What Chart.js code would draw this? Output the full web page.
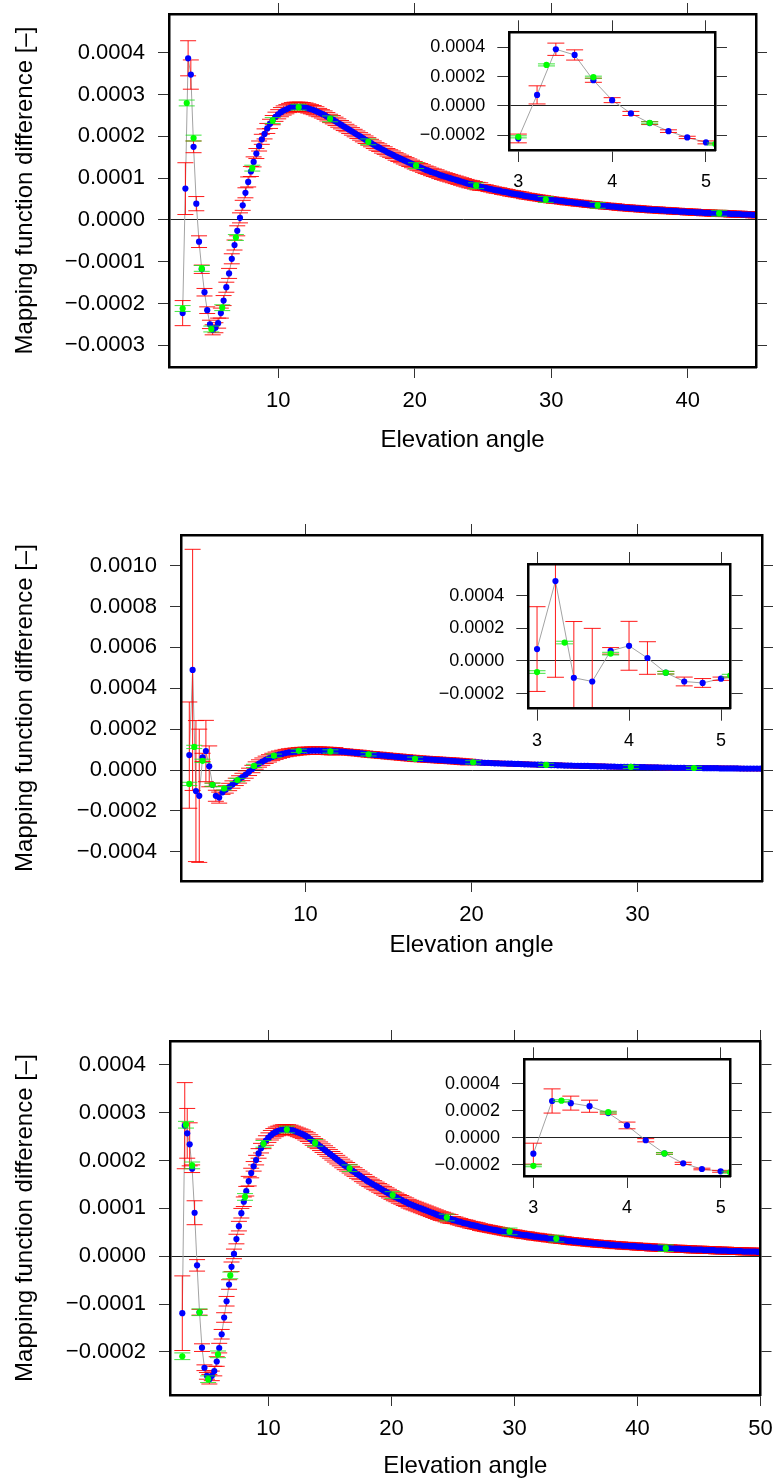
<!DOCTYPE html>
<html>
<head>
<meta charset="utf-8">
<script src="https://cdn.jsdelivr.net/npm/chart.js@4.4.0/dist/chart.umd.min.js"></script>
<style>
  body { margin: 0; background: #fff; width: 773px; height: 1483px; position: relative; overflow: hidden; }
  canvas { position: absolute; }
</style>
</head>
<body>
<canvas id="main1" width="773" height="452" style="left:0;top:0"></canvas>
<canvas id="main2" width="773" height="477" style="left:0;top:480px"></canvas>
<canvas id="main3" width="773" height="478" style="left:0;top:1000px"></canvas>
<canvas id="ins1" width="330" height="177" style="left:410px;top:18px"></canvas>
<canvas id="ins2" width="320" height="210" style="left:430px;top:545px"></canvas>
<canvas id="ins3" width="325" height="182" style="left:425px;top:1040px"></canvas>
<script>
// values in the tables below are in units of 1e-6
const U = 1e-6;

// elevation angles of the fine (blue) series
const angles = [
  3.0, 3.2, 3.4, 3.6, 3.8,  4.0, 4.2, 4.4, 4.6, 4.8,
  5.0, 5.2, 5.4, 5.6, 5.8,  6.0, 6.2, 6.4, 6.6, 6.8,
  7.0, 7.2, 7.4, 7.6, 7.8,  8.0, 8.2, 8.4, 8.6, 8.8,
  9.0, 9.2, 9.4, 9.6, 9.8,  10.0, 10.2, 10.4, 10.6, 10.8,
  11.0, 11.2, 11.4, 11.6, 11.8,  12.0, 12.2, 12.4, 12.6, 12.8,
  13.0, 13.2, 13.4, 13.6, 13.8,  14.0, 14.2, 14.4, 14.6, 14.8,
  15.0, 15.2, 15.4, 15.6, 15.8,  16.0, 16.2, 16.4, 16.6, 16.8,
  17.0, 17.2, 17.4, 17.6, 17.8,  18.0, 18.2, 18.4, 18.6, 18.8,
  19.0, 19.2, 19.4, 19.6, 19.8,  20.0, 20.2, 20.4, 20.6, 20.8,
  21.0, 21.2, 21.4, 21.6, 21.8,  22.0, 22.2, 22.4, 22.6, 22.8,
  23.0, 23.2, 23.4, 23.6, 23.8,  24.0, 24.2, 24.4, 24.6, 24.8,
  25.0, 25.2, 25.4, 25.6, 25.8,  26.0, 26.2, 26.4, 26.6, 26.8,
  27.0, 27.2, 27.4, 27.6, 27.8,  28.0, 28.2, 28.4, 28.6, 28.8,
  29.0, 29.2, 29.4, 29.6, 29.8,  30.0, 30.2, 30.4, 30.6, 30.8,
  31.0, 31.2, 31.4, 31.6, 31.8,  32.0, 32.2, 32.4, 32.6, 32.8,
  33.0, 33.2, 33.4, 33.6, 33.8,  34.0, 34.2, 34.4, 34.6, 34.8,
  35.0, 35.2, 35.4, 35.6, 35.8,  36.0, 36.2, 36.4, 36.6, 36.8,
  37.0, 37.2, 37.4, 37.6, 37.8,  38.0, 38.2, 38.4, 38.6, 38.8,
  39.0, 39.2, 39.4, 39.6, 39.8,  40.0, 40.2, 40.4, 40.6, 40.8,
  41.0, 41.2, 41.4, 41.6, 41.8,  42.0, 42.2, 42.4, 42.6, 42.8,
  43.0, 43.2, 43.4, 43.6, 43.8,  44.0, 44.2, 44.4, 44.6, 44.8,
  45.0, 45.2, 45.4, 45.6, 45.8,  46.0, 46.2, 46.4, 46.6, 46.8,
  47.0, 47.2, 47.4, 47.6, 47.8,  48.0, 48.2, 48.4, 48.6, 48.8,
  49.0, 49.2, 49.4, 49.6, 49.8,  50.0, 50.2, 50.4, 50.6, 50.8
];
// elevation angles of the coarse (green) series
const greenAngles = [3.0, 3.3, 3.8, 4.4, 5.1, 5.9, 6.9, 8.1, 9.6, 11.5, 13.8, 16.6, 20.1, 24.5, 29.6, 33.4, 42.3];

// ---- panel 1
const blue1 = [
  -223, 75, 387, 348, 175,  39, -52, -118, -173, -216,
  -250, -263, -258, -247, -223,  -193, -161, -128, -93, -60,
  -26, 5, 35, 65, 91,  116, 139, 159, 177, 193,
  206, 219, 230, 239, 247,  253, 258, 262, 265, 268,
  270, 271, 271, 271, 270,  269, 267, 265, 263, 260,
  257, 254, 251, 247, 243,  240, 236, 232, 228, 224,
  220, 216, 212, 208, 204,  200, 196, 192, 188, 184,
  180, 176, 173, 169, 166,  162, 159, 156, 152, 149,
  146, 143, 140, 137, 134,  131, 128, 126, 123, 120,
  118, 115, 113, 111, 108,  106, 104, 102, 100, 98,
  96, 94, 92, 90, 88,  86, 85, 83, 81, 80,
  78, 77, 75, 74, 72,  71, 70, 68, 67, 66,
  64, 63, 62, 61, 60,  58, 57, 56, 55, 54,
  53, 52, 51, 50, 49,  48, 47, 47, 46, 45,
  44, 43, 43, 42, 41,  40, 40, 39, 38, 37,
  37, 36, 35, 35, 34,  33, 33, 32, 32, 31,
  30, 30, 29, 29, 28,  28, 27, 27, 26, 26,
  25, 25, 24, 24, 24,  23, 23, 22, 22, 22,
  21, 21, 20, 20, 20,  19, 19, 19, 18, 18,
  18, 17, 17, 17, 16,  16, 16, 16, 15, 15,
  15, 14, 14, 14, 14,  13, 13, 13, 13, 12,
  12, 12
];
const blueErr1 = [
  30, 62, 42, 35, 14,  17, 14, 10, 9, 8,
  10, 12, 12, 12, 12,  12, 12, 12, 12, 12,
  12, 12, 12, 12, 12,  12, 12, 12, 12, 12,
  12, 12, 11, 11, 11,  11, 11, 11, 11, 11,
  11, 11, 11, 11, 11,  11, 11, 11, 11, 11,
  10, 10, 10, 10, 10,  10, 10, 10, 10, 10,
  9, 9, 9, 9, 9,  9, 9, 9, 9, 9,
  9, 9, 9, 9, 9,  9, 9, 9, 9, 9,
  9, 9, 9, 9, 9,  9, 9, 9, 9, 9,
  9, 9, 9, 9, 9,  9, 9, 9, 9, 9,
  9, 9, 9, 9, 9,  9, 9, 9, 9, 9,
  7, 7, 7, 7, 7,  7, 7, 7, 7, 7,
  7, 7, 7, 7, 7,  7, 7, 7, 7, 7,
  7, 7, 7, 7, 7,  7, 7, 7, 7, 7,
  7, 7, 7, 7, 7,  7, 7, 7, 7, 7,
  7, 7, 7, 7, 7,  7, 7, 7, 7, 7,
  7, 7, 7, 7, 7,  7, 7, 7, 7, 7,
  7, 7, 7, 7, 7,  7, 7, 7, 7, 7,
  7, 7, 7, 7, 7,  7, 7, 7, 7, 7,
  7, 7, 7, 7, 7,  7, 7, 7, 7, 7,
  7, 7, 7, 7, 7,  7, 7, 7, 7, 7,
  7, 7
];
const green1 = [-212, 280, 196, -116, -261, -210, -42, 124, 238, 270, 242, 187, 130, 82, 49, 35, 16];
const greenErr1 = [7, 7, 7, 7, 7, 7, 7, 7, 7, 7, 7, 7, 7, 7, 7, 7, 7];

// ---- panel 2
const blue2 = [
  73, 490, -103, -126, 62,  93, 18, -72, -126, -135,
  -109, -95, -83, -71, -58,  -46, -34, -22, -9, 5,
  22, 32, 41, 50, 57,  64, 70, 75, 79, 83,
  86, 88, 90, 92, 93,  94, 94, 95, 95, 95,
  94, 94, 93, 92, 92,  91, 90, 89, 87, 86,
  84, 83, 81, 79, 77,  76, 74, 73, 71, 70,
  68, 67, 65, 64, 62,  61, 59, 58, 56, 55,
  54, 53, 52, 51, 50,  49, 48, 47, 46, 45,
  44, 43, 41, 40, 39,  38, 38, 37, 36, 35,
  35, 34, 33, 33, 32,  32, 31, 31, 30, 30,
  29, 28, 28, 27, 27,  26, 26, 25, 25, 24,
  24, 23, 23, 22, 22,  22, 21, 21, 20, 20,
  20, 19, 19, 18, 18,  18, 17, 17, 17, 16,
  16, 16, 15, 15, 15,  14, 14, 14, 13, 13,
  13, 13, 12, 12, 12,  12, 11, 11, 11, 11,
  10, 10, 10, 10, 10,  9, 9, 9, 9, 9,
  8, 8, 8, 8, 8,  8, 7, 7, 7, 7,
  7, 7, 7, 6
];
const blueErr2 = [
  260, 590, 345, 326, 20,  150, 100, 8, 27, 27,
  10, 18, 18, 18, 18,  18, 18, 18, 18, 18,
  18, 18, 18, 18, 18,  18, 18, 18, 18, 18,
  18, 18, 18, 18, 18,  18, 18, 18, 18, 18,
  18, 18, 18, 18, 18,  14, 14, 14, 14, 14,
  14, 14, 14, 14, 14,  14, 14, 14, 14, 14,
  14, 14, 14, 14, 14,  14, 14, 14, 14, 14,
  14, 14, 14, 14, 14,  14, 14, 14, 14, 14,
  14, 14, 14, 14, 14,  10, 10, 10, 10, 10,
  10, 10, 10, 10, 10,  10, 10, 10, 10, 10,
  10, 10, 10, 10, 10,  10, 10, 10, 10, 10,
  10, 10, 10, 10, 10,  10, 10, 10, 10, 10,
  10, 10, 10, 10, 10,  10, 10, 10, 10, 10,
  10, 10, 10, 10, 10,  10, 10, 10, 10, 10,
  10, 10, 10, 10, 10,  10, 10, 10, 10, 10,
  10, 10, 10, 10, 10,  10, 10, 10, 10, 10,
  10, 10, 10, 10, 10,  10, 10, 10, 10, 10,
  10, 10, 10, 10
];
const green2 = [-68, 113, 45, -72, -90, -49, 20, 70, 94, 91, 77, 55, 38, 25, 15, 10, 5];
const greenErr2 = [8, 8, 8, 8, 8, 8, 8, 8, 8, 8, 8, 8, 8, 8, 8, 8, 8];

// ---- panel 3
const blue3 = [
  -119, 273, 257, 234, 183,  91, -19, -117, -191, -233,
  -250, -257, -250, -240, -220,  -192, -163, -128, -94, -59,
  -22, 5, 36, 63, 90,  114, 136, 157, 174, 188,
  201, 215, 226, 235, 242,  248, 253, 257, 260, 262,
  264, 265, 265, 265, 264,  263, 261, 259, 257, 255,
  252, 249, 245, 241, 237,  234, 230, 226, 222, 218,
  214, 210, 206, 202, 198,  194, 190, 187, 183, 179,
  176, 172, 169, 165, 162,  158, 155, 152, 149, 146,
  143, 140, 137, 134, 131,  128, 125, 123, 120, 118,
  115, 113, 110, 108, 106,  104, 102, 100, 98, 96,
  94, 92, 90, 88, 86,  84, 83, 81, 79, 78,
  76, 75, 73, 72, 70,  69, 68, 66, 65, 64,
  63, 61, 60, 59, 58,  57, 56, 55, 54, 53,
  52, 51, 50, 49, 48,  48, 47, 46, 45, 44,
  44, 43, 42, 41, 41,  40, 39, 39, 38, 37,
  37, 36, 35, 35, 34,  34, 33, 32, 32, 31,
  31, 30, 30, 29, 29,  28, 28, 27, 27, 26,
  26, 26, 25, 25, 24,  24, 23, 23, 23, 22,
  22, 22, 21, 21, 21,  20, 20, 20, 19, 19,
  19, 18, 18, 18, 18,  17, 17, 17, 17, 16,
  16, 16, 16, 15, 15,  15, 15, 14, 14, 14,
  14, 14, 13, 13, 13,  13, 13, 12, 12, 12,
  12, 12, 11, 11, 11,  11, 11, 11, 10, 10,
  10, 10, 10, 10, 9,  9, 9
];
const blueErr3 = [
  78, 90, 52, 45, 8,  25, 12, 6, 8, 6,
  7, 10, 10, 10, 10,  10, 10, 10, 10, 10,
  10, 10, 10, 10, 10,  10, 10, 10, 10, 10,
  10, 10, 10, 10, 10,  10, 10, 10, 10, 10,
  10, 10, 10, 10, 10,  9, 9, 9, 9, 9,
  9, 9, 9, 9, 9,  9, 9, 9, 9, 9,
  9, 9, 9, 9, 9,  9, 9, 9, 9, 9,
  9, 9, 9, 9, 9,  9, 9, 9, 9, 9,
  9, 9, 9, 9, 9,  9, 9, 9, 9, 9,
  9, 9, 9, 9, 9,  9, 9, 9, 9, 9,
  9, 9, 9, 9, 9,  9, 9, 9, 9, 9,
  7, 7, 7, 7, 7,  7, 7, 7, 7, 7,
  7, 7, 7, 7, 7,  7, 7, 7, 7, 7,
  7, 7, 7, 7, 7,  7, 7, 7, 7, 7,
  7, 7, 7, 7, 7,  7, 7, 7, 7, 7,
  7, 7, 7, 7, 7,  7, 7, 7, 7, 7,
  7, 7, 7, 7, 7,  7, 7, 7, 7, 7,
  7, 7, 7, 7, 7,  7, 7, 7, 7, 7,
  7, 7, 7, 7, 7,  7, 7, 7, 7, 7,
  7, 7, 7, 7, 7,  7, 7, 7, 7, 7,
  7, 7, 7, 7, 7,  7, 7, 7, 7, 7,
  7, 7, 7, 7, 7,  7, 7, 7, 7, 7,
  7, 7, 7, 7, 7,  7, 7, 7, 7, 7,
  7, 7, 7, 7, 7,  7, 7
];
const green3 = [-209, 275, 190, -117, -257, -205, -40, 124, 235, 265, 237, 184, 128, 81, 52, 37, 17];
const greenErr3 = [7, 7, 7, 7, 7, 7, 7, 7, 7, 7, 7, 7, 7, 7, 7, 7, 7];

// tick labels
const xTicks1 = [10, 20, 30, 40];
const xTicks2 = [10, 20, 30];
const xTicks3 = [10, 20, 30, 40, 50];
const yTicks1 = [-0.0003, -0.0002, -0.0001, 0, 0.0001, 0.0002, 0.0003, 0.0004];
const yTicks2 = [-0.0004, -0.0002, 0, 0.0002, 0.0004, 0.0006, 0.0008, 0.0010];
const yTicks3 = [-0.0002, -0.0001, 0, 0.0001, 0.0002, 0.0003, 0.0004];
const insetXTicks = [3, 4, 5];
const insetYTicks = [-0.0002, 0, 0.0002, 0.0004];

const FONT = '"Liberation Sans", Arial, Helvetica, sans-serif';
Chart.defaults.font.family = FONT;
Chart.defaults.color = '#000';

const toPts = (xs, ys) => ys.map((v, i) => ({ x: xs[i], y: v * U }));
const fmtY = (v) => (+v).toFixed(4).replace('-', '\u2212');

// draws vertical error bars with caps, under the points of the dataset
const errorBars = {
  id: 'errorBars',
  beforeDatasetDraw(chart, args) {
    const ds = chart.data.datasets[args.index];
    if (!ds.errs) return;
    const { ctx, chartArea: a } = chart;
    const xs = chart.scales.x, ys = chart.scales.y;
    ctx.save();
    ctx.beginPath();
    ctx.rect(a.left, a.top, a.right - a.left, a.bottom - a.top);
    ctx.clip();
    ctx.strokeStyle = ds.errColor;
    ctx.lineWidth = 1;
    ctx.beginPath();
    ds.data.forEach((p, i) => {
      const e = ds.errs[i] * U;
      const px = xs.getPixelForValue(p.x);
      const hi = ys.getPixelForValue(p.y + e);
      const lo = ys.getPixelForValue(p.y - e);
      ctx.moveTo(px, hi); ctx.lineTo(px, lo);
      ctx.moveTo(px - ds.cap, hi); ctx.lineTo(px + ds.cap, hi);
      ctx.moveTo(px - ds.cap, lo); ctx.lineTo(px + ds.cap, lo);
    });
    ctx.stroke();
    ctx.restore();
  }
};

function fixSize(px) {
  return (s) => {
    if (s.isHorizontal()) s.height = px; else s.width = px;
    s.paddingLeft = 0; s.paddingRight = 0; s.paddingTop = 0; s.paddingBottom = 0;
  };
}
const setTicks = (arr) => (s) => { s.ticks = arr.map(v => ({ value: v })); };

function drawPanel(id, o) {
  const grid = { drawOnChartArea: false, color: '#333', tickColor: '#333', tickLength: o.tick, tickWidth: 1 };
  const border = { display: true, color: '#000', width: 2.5, z: 1 };
  const tickFont = { size: o.fontSize, lineHeight: 1 };
  new Chart(document.getElementById(id), {
    type: 'scatter',
    data: {
      datasets: [
        { data: toPts(angles, o.blue), showLine: true, borderColor: '#a3a3a3', borderWidth: 1,
          pointRadius: 0, order: 4, clip: 0, xAxisID: 'x', yAxisID: 'y' },
        { data: toPts(angles, o.blue), showLine: false, pointRadius: 3.1, pointBackgroundColor: '#0000ff',
          pointBorderWidth: 0, order: 3, clip: 0, xAxisID: 'x', yAxisID: 'y',
          errs: o.blueErr, errColor: 'rgba(255,0,0,0.9)', cap: o.cap },
        { data: toPts(greenAngles, o.green), showLine: false, pointRadius: 3.1, pointBackgroundColor: '#00ff00',
          pointBorderWidth: 0, order: 1, clip: 0, xAxisID: 'x', yAxisID: 'y',
          errs: o.greenErr, errColor: 'rgba(30,225,30,0.85)', cap: o.cap }
      ]
    },
    options: {
      responsive: false, animation: false, devicePixelRatio: 1, events: [],
      layout: { padding: 0 },
      plugins: { legend: { display: false }, tooltip: { enabled: false } },
      scales: {
        x: {
          type: 'linear', position: 'bottom', min: o.xMin, max: o.xMax,
          afterBuildTicks: setTicks(o.xTicks), afterFit: fixSize(o.bottom),
          grid: grid, border: border,
          ticks: { autoSkip: false, maxRotation: 0, padding: o.xPad, font: tickFont, callback: v => String(v) },
          title: o.titles ? { display: true, text: 'Elevation angle', font: { size: 24, lineHeight: 1 }, padding: { top: 0, bottom: 0 } } : { display: false }
        },
        x2: {
          type: 'linear', position: 'top', min: o.xMin, max: o.xMax,
          afterBuildTicks: setTicks(o.xTicks), afterFit: fixSize(o.top),
          grid: grid, border: border, ticks: { display: false }
        },
        y: {
          type: 'linear', position: 'left', min: o.yMin, max: o.yMax,
          afterBuildTicks: setTicks(o.yTicks), afterFit: fixSize(o.left),
          grid: {
            drawOnChartArea: true, tickLength: o.tick, tickColor: '#333', tickWidth: 1, lineWidth: 1,
            color: (c) => (c.tick && c.tick.value === 0 ? '#222' : 'rgba(0,0,0,0)')
          },
          border: border,
          ticks: { autoSkip: false, padding: o.yPad, font: tickFont, callback: fmtY },
          title: o.titles ? { display: true, text: 'Mapping function difference [\u2013]', font: { size: 24, lineHeight: 1 }, padding: { top: 13, bottom: 0 } } : { display: false }
        },
        y2: {
          type: 'linear', position: 'right', min: o.yMin, max: o.yMax,
          afterBuildTicks: setTicks(o.yTicks), afterFit: fixSize(o.right),
          grid: grid, border: border, ticks: { display: false }
        }
      }
    },
    plugins: [errorBars]
  });
}

const mainStyle = { tick: 11, fontSize: 22, xPad: 12, yPad: 13, cap: 8, titles: true };
const insetStyle = { tick: 12, fontSize: 18, xPad: 11, yPad: 12, cap: 8.5, titles: false };

drawPanel('main1', Object.assign({}, mainStyle, {
  blue: blue1, blueErr: blueErr1, green: green1, greenErr: greenErr1,
  xMin: 2, xMax: 45, yMin: -0.000352, yMax: 0.000493, xTicks: xTicks1, yTicks: yTicks1,
  left: 169, right: 17, top: 14, bottom: 85
}));
drawPanel('main2', Object.assign({}, mainStyle, {
  blue: blue2, blueErr: blueErr2, green: green2, greenErr: greenErr2,
  xMin: 2.5, xMax: 37.5, yMin: -0.000543, yMax: 0.00115, xTicks: xTicks2, yTicks: yTicks2,
  left: 181, right: 11, top: 55, bottom: 76
}));
drawPanel('main3', Object.assign({}, mainStyle, {
  blue: blue3, blueErr: blueErr3, green: green3, greenErr: greenErr3,
  xMin: 2, xMax: 50, yMin: -0.000290, yMax: 0.00045, xTicks: xTicks3, yTicks: yTicks3,
  left: 170, right: 12.5, top: 41, bottom: 83
}));
drawPanel('ins1', Object.assign({}, insetStyle, {
  blue: blue1, blueErr: blueErr1, green: green1, greenErr: greenErr1,
  xMin: 2.904, xMax: 5.096, yMin: -0.000302, yMax: 0.000503, xTicks: insetXTicks, yTicks: insetYTicks,
  left: 99.3, right: 25, top: 14.3, bottom: 45
}));
drawPanel('ins2', Object.assign({}, insetStyle, {
  blue: blue2, blueErr: blueErr2, green: green2, greenErr: greenErr2,
  xMin: 2.905, xMax: 5.105, yMin: -0.000293, yMax: 0.000595, xTicks: insetXTicks, yTicks: insetYTicks,
  left: 98.3, right: 19.3, top: 19, bottom: 46.3
}));
drawPanel('ins3', Object.assign({}, insetStyle, {
  blue: blue3, blueErr: blueErr3, green: green3, greenErr: greenErr3,
  xMin: 2.90, xMax: 5.10, yMin: -0.000285, yMax: 0.000583, xTicks: insetXTicks, yTicks: insetYTicks,
  left: 99, right: 20, top: 19.3, bottom: 46
}));
</script>
</body>
</html>
